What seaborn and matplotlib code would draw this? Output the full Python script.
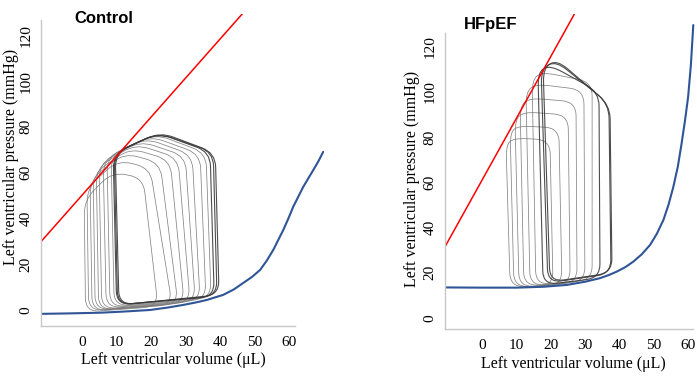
import numpy as np
import matplotlib
matplotlib.use('Agg')
import matplotlib.pyplot as plt
from matplotlib.path import Path
from matplotlib.patches import PathPatch
import seaborn as sns

# ---------------- Control ----------------
ctrl_espvr_v = [-12, 46.4]
ctrl_espvr_p = [29.7, 129.3]
ctrl_edpvr_v = [-12, -4, 5.2, 12, 19.7, 25, 29.3, 33, 36.2, 40.9, 44, 46.7, 49.3, 51.6,
                53.5, 55.4, 57, 58.3, 59.8, 61.2, 62.7, 64.1, 65.6, 67, 68.5, 69.9]
ctrl_edpvr_p = [-1.7, -1.5, -1.2, -0.7, 0.0, 1.1, 2.2, 3.3, 4.4, 6.6, 9.0, 11.8, 14.5, 17.5,
                21.5, 26.2, 31.0, 34.9, 40.0, 45.1, 49.6, 53.8, 57.6, 61.1, 65.0, 69.1]

# one entry per pressure-volume loop (occlusion run, smallest -> steady state)
ctrl_esv_top = [0.6, 1.4, 2.3, 3.2, 4.1, 4.9, 6.1, 7.2, 8.4, 9.0, 9.3, 9.6]
ctrl_esv_bot = [1.0, 1.9, 2.9, 3.8, 4.8, 5.7, 7.0, 8.1, 9.3, 10.0, 10.3, 10.7]
ctrl_edv = [22.0, 26.1, 27.8, 29.6, 31.3, 32.8, 34.2, 35.9, 37.4, 38.3, 39.1, 39.7]
ctrl_edv_top = [17.7, 19.7, 22.6, 25.5, 27.8, 29.9, 31.9, 34.2, 35.9, 37.1, 38.0, 38.6]
ctrl_p_min = [-0.9, -0.4, -0.4, 0.0, 0.0, 0.4, 0.9, 1.3, 1.7, 2.2, 2.2, 2.2]
ctrl_edp = [1.5, 2.2, 2.6, 3.0, 3.4, 3.8, 4.2, 4.7, 5.3, 5.8, 6.2, 6.6]
ctrl_pes = [48.0, 53.3, 56.8, 59.4, 62.0, 63.8, 65.5, 66.8, 67.7, 68.1, 68.6, 68.6]
ctrl_p_max = [60.3, 65.5, 68.6, 70.7, 72.5, 73.8, 75.1, 76.0, 76.9, 77.3, 77.3, 77.7]
ctrl_v_pmax = [8.7, 10.4, 12.2, 13.9, 15.4, 16.8, 18.3, 19.7, 21.2, 22.0, 22.0, 22.6]
ctrl_p_sh = [57.6, 62.0, 64.2, 65.5, 66.4, 67.2, 67.7, 68.1, 68.6, 69.0, 69.0, 68.6]

# ---------------- HFpEF ----------------
hf_espvr_v = [-10.8, 26.9]
hf_espvr_p = [31.5, 134.4]
hf_edpvr_v = [-10.8, 0, 10.1, 18, 24.7, 30, 34.4, 37, 39.3, 41.8, 44.1, 46.6, 49.0, 51.0,
              52.9, 54.4, 55.8, 57.1, 58.2, 59.2, 60.1, 60.9, 61.6]
hf_edpvr_p = [13.5, 13.4, 13.4, 13.8, 14.6, 16.0, 17.6, 19.0, 20.5, 22.5, 24.9, 28.2, 32.3, 37.3,
              43.4, 50.2, 58.1, 67.0, 77.3, 87.5, 97.9, 112.0, 129.6]

hf_esv_top = [7.0, 8.2, 9.6, 11.1, 12.8, 14.6, 16.3, 17.2, 17.8]
hf_esv_bot = [8.2, 9.3, 10.8, 12.2, 14.0, 15.7, 17.8, 19.2, 19.8]
hf_edv = [20.7, 23.3, 25.7, 27.7, 30.0, 32.1, 34.4, 37.6, 37.9]
hf_edv_top = [19.8, 22.4, 25.1, 27.4, 29.7, 32.1, 34.1, 37.0, 37.3]
hf_p_min = [13.7, 13.7, 13.7, 14.2, 14.2, 14.6, 14.6, 15.5, 15.9]
hf_edp = [14.2, 14.5, 15.0, 15.5, 16.1, 16.8, 17.7, 19.6, 20.0]
hf_pes = [76.5, 81.9, 87.6, 93.8, 100.0, 105.3, 108.8, 110.2, 110.6]
hf_p_max = [79.6, 85.0, 91.2, 97.3, 103.5, 108.8, 111.9, 113.7, 114.2]
hf_v_pmax = [9.3, 10.5, 12.2, 14.0, 15.7, 17.5, 19.8, 21.6, 21.9]
hf_p_sh = [78.8, 84.1, 89.8, 95.6, 100.9, 104.4, 100.0, 94.7, 94.2]

x_ticks = [0, 10, 20, 30, 40, 50, 60]
y_ticks = [0, 20, 40, 60, 80, 100, 120]

sns.set_theme(style='white')
plt.rcParams['font.family'] = ['Liberation Serif', 'DejaVu Serif']
plt.rcParams['text.color'] = 'black'
plt.rcParams['xtick.color'] = 'black'
plt.rcParams['ytick.color'] = 'black'

W, H = 697, 383
fig = plt.figure(figsize=(W / 100, H / 100), dpi=100)


def rounded_loop(verts, scale, r=14):
    # closed polygon with rounded corners (radius roughly in pixels)
    pts = np.array(verts, float)
    s = np.array(scale)
    n = len(pts)
    a_pts, b_pts = [], []
    for i in range(n):
        prev, cur, nxt = pts[i - 1], pts[i], pts[(i + 1) % n]
        dp = np.linalg.norm((prev - cur) * s)
        dn = np.linalg.norm((nxt - cur) * s)
        a_pts.append(cur + min(0.45, r / dp) * (prev - cur))
        b_pts.append(cur + min(0.45, r / dn) * (nxt - cur))
    out, codes = [b_pts[0]], [Path.MOVETO]
    for k in range(1, n + 1):
        i = k % n
        out += [a_pts[i], pts[i], b_pts[i]]
        codes += [Path.LINETO, Path.CURVE3, Path.CURVE3]
    return Path(out, codes)


def panel(rect_px, xlim, ylim, xbound, ybound, espvr, edpvr, loops, scale):
    l, t, r, b = rect_px
    ax = fig.add_axes([l / W, 1 - b / H, (r - l) / W, (b - t) / H])
    ax.set_xlim(*xlim)
    ax.set_ylim(*ylim)
    n = len(loops[0])
    for i in range(n):
        verts = [(loops[1][i], loops[4][i]), (loops[2][i], loops[5][i]),
                 (loops[3][i], loops[9][i]), (loops[8][i], loops[7][i]),
                 (loops[0][i], loops[6][i])]
        steady = i >= n - 3
        ax.add_patch(PathPatch(rounded_loop(verts, scale), fill=False,
                               edgecolor='#3a3a3a' if steady else '#777777',
                               lw=0.8 if steady else 0.55, alpha=0.9))
    sns.lineplot(x=edpvr[0], y=edpvr[1], ax=ax, color='#2F5597', lw=1.5,
                 sort=False, estimator=None)
    sns.lineplot(x=espvr[0], y=espvr[1], ax=ax, color='#FF0000', lw=1.1,
                 sort=False, estimator=None)
    for sp in ['top', 'right']:
        ax.spines[sp].set_visible(False)
    for sp in ['left', 'bottom']:
        ax.spines[sp].set_color('#c8c8c8')
        ax.spines[sp].set_linewidth(1.0)
    ax.spines['bottom'].set_bounds(*xbound)
    ax.spines['left'].set_bounds(*ybound)
    ax.set_xticks(x_ticks)
    ax.set_yticks(y_ticks)
    ax.set_xticklabels([str(v) for v in x_ticks], fontsize=11)
    ax.set_yticklabels([str(v) for v in y_ticks], fontsize=11, rotation=90,
                       va='center', ha='right')
    ax.tick_params(axis='both', length=0, colors='black')
    ax.tick_params(axis='x', pad=7)
    ax.tick_params(axis='y', pad=6)
    ax.set_xlabel('')
    ax.set_ylabel('')
    return ax


ctrl_loops = [ctrl_esv_top, ctrl_esv_bot, ctrl_edv, ctrl_edv_top, ctrl_p_min,
              ctrl_edp, ctrl_pes, ctrl_p_max, ctrl_v_pmax, ctrl_p_sh]
hf_loops = [hf_esv_top, hf_esv_bot, hf_edv, hf_edv_top, hf_p_min,
            hf_edp, hf_pes, hf_p_max, hf_v_pmax, hf_p_sh]

ax1 = panel((40.7, 14, 323.6, 326), (-12, 70.0), (-7, 129.3), (-12, 61.7), (-7, 126.7),
            (ctrl_espvr_v, ctrl_espvr_p), (ctrl_edpvr_v, ctrl_edpvr_p), ctrl_loops, (3.45, 2.29))
ax2 = panel((445, 14, 695, 329), (-10.8, 62.1), (-4.9, 134.5), (-10.8, 61.5), (-4.9, 126),
            (hf_espvr_v, hf_espvr_p), (hf_edpvr_v, hf_edpvr_p), hf_loops, (3.43, 2.26))

# titles and axis labels
fig.text(74 / W, 1 - 23 / H, 'Control', family='Liberation Sans', weight='bold',
         fontsize=12, va='baseline', ha='left', color='black')
fig.text(464 / W, 1 - 29 / H, 'HFpEF', family='Liberation Sans', weight='bold',
         fontsize=12, va='baseline', ha='left', color='black')
fig.text(173.5 / W, 1 - 360 / H, 'Left ventricular volume (\u03bcL)', fontsize=11.5,
         ha='center', va='center')
fig.text(573 / W, 1 - 364 / H, 'Left ventricular volume (\u03bcL)', fontsize=11.5,
         ha='center', va='center')
fig.text(11 / W, 1 - 157 / H, 'Left ventricular pressure (mmHg)', fontsize=11.5,
         rotation=90, ha='center', va='center')
fig.text(412 / W, 1 - 179 / H, 'Left ventricular pressure (mmHg)', fontsize=11.5,
         rotation=90, ha='center', va='center')

fig.savefig('out.png', dpi=100)
